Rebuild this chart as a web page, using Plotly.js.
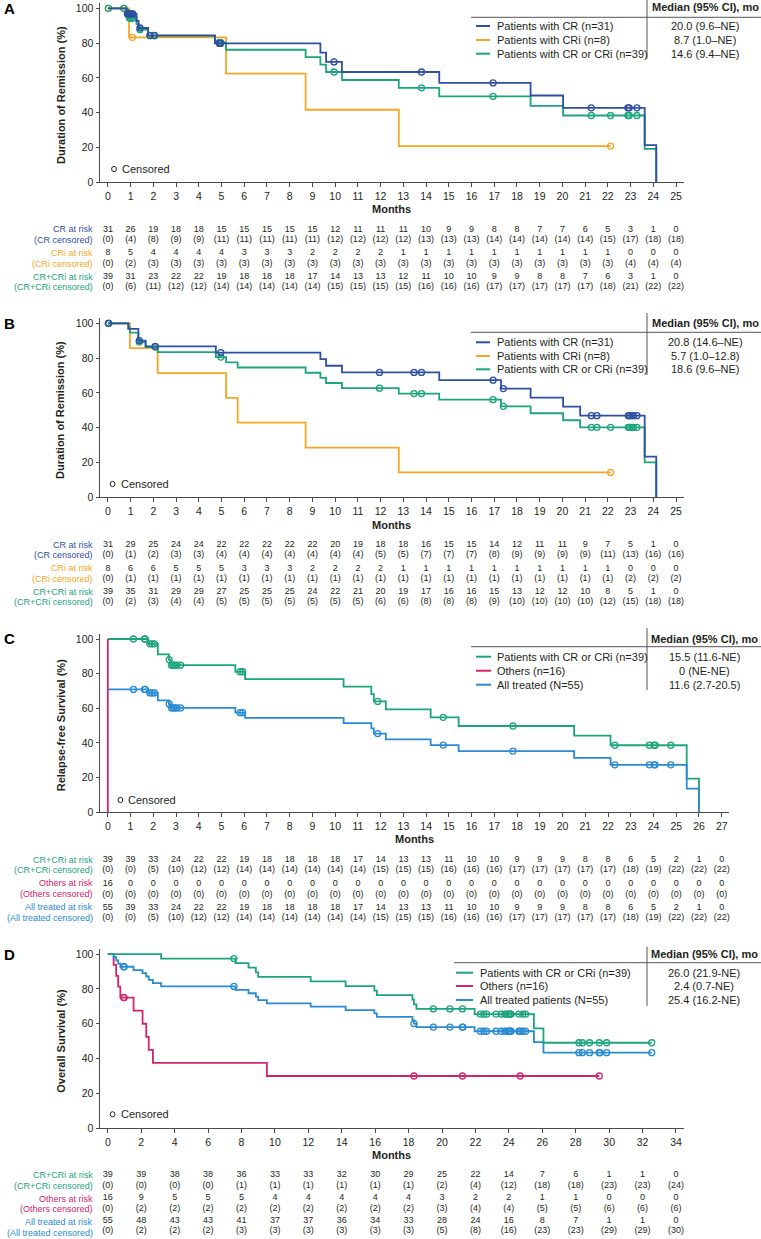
<!DOCTYPE html>
<html><head><meta charset="utf-8">
<script src="https://cdn.plot.ly/plotly-3.0.1.min.js"></script>
<style>html,body{margin:0;padding:0;background:#fff}</style>
</head><body>
<div id="chart" style="width:761px;height:1239px"></div>
<script>
// ---------------- DATA ----------------
const monthsAB = [0,1,2,3,4,5,6,7,8,9,10,11,12,13,14,15,16,17,18,19,20,21,22,23,24,25];
const monthsC  = [0,1,2,3,4,5,6,7,8,9,10,11,12,13,14,15,16,17,18,19,20,21,22,23,24,25,26,27];
const monthsD  = [0,2,4,6,8,10,12,14,16,18,20,22,24,26,28,30,32,34];
const yTicks   = [0,20,40,60,80,100];

// Panel A: duration of remission
const aCR_t  = [0,0.82,1.26,1.35,1.77,4.71,9.35,9.6,10.3,14.58,18.6,20.03,23.62,24.13];
const aCR_s  = [100,96.8,92.7,88.7,84.5,79.8,74.5,69.2,63.4,57.1,49.9,42.8,21.4,0];
const aCR_c  = [0.86,0.9,0.94,0.98,1.05,1.1,1.41,1.85,2.05,4.9,4.96,9.95,13.8,16.95,21.27,22.88,22.94,23.28];
const aCRi_t = [0,0.93,5.2,8.7,12.8,22.12];
const aCRi_s = [100,83.3,62.5,41.7,20.8,20.8];
const aCRi_c = [0.02,0.7,1.08,22.12];
const aCC_t  = [0,0.82,0.93,1.26,1.35,1.77,4.71,5.2,8.7,9.35,9.6,10.3,12.8,14.58,18.6,20.03,23.62,24.13];
const aCC_s  = [100,97.3,94.4,91.0,87.7,84.2,80.4,76.2,71.9,67.6,63.4,58.8,54.3,49.4,43.9,38.4,19.2,0];
const aCC_c  = [0.02,0.7,0.86,0.9,0.94,0.98,1.05,1.08,1.1,1.41,1.85,2.05,4.9,4.96,9.95,13.8,16.95,21.27,22.12,22.88,22.94,23.28];

const aRiskCR   = [31,26,19,18,18,15,15,15,15,15,12,11,11,11,10,9,9,8,8,7,7,6,5,3,1,0];
const aCensCR   = [0,4,8,9,9,11,11,11,11,11,12,12,12,12,13,13,13,14,14,14,14,14,15,17,18,18];
const aRiskCRi  = [8,5,4,4,4,4,3,3,3,2,2,2,2,1,1,1,1,1,1,1,1,1,1,0,0,0];
const aCensCRi  = [0,2,3,3,3,3,3,3,3,3,3,3,3,3,3,3,3,3,3,3,3,3,3,4,4,4];
const aRiskCC   = [39,31,23,22,22,19,18,18,18,17,14,13,13,12,11,10,10,9,9,8,8,7,6,3,1,0];
const aCensCC   = [0,6,11,12,12,14,14,14,14,14,15,15,15,15,16,16,16,17,17,17,17,17,18,21,22,22];

// Panel B: duration of remission
const bCR_t  = [0,0.9,1.34,1.66,4.75,9.35,9.6,10.3,14.58,17.3,18.6,20.03,20.78,23.62,24.13];
const bCR_s  = [100,96.8,90.1,86.8,83.2,79.4,75.6,71.8,67.3,62.5,57.3,52.1,46.9,23.4,0];
const bCR_c  = [0.02,1.38,2.08,4.97,11.95,13.47,13.8,16.95,17.4,21.27,21.52,22.9,22.96,23.05,23.13,23.28];
const bCRi_t = [0,0.97,2.19,5.2,5.71,8.7,12.8,22.12];
const bCRi_s = [100,85.7,71.4,57.1,42.9,28.6,14.3,14.3];
const bCRi_c = [0.04,22.12];
const bCC_t  = [0,0.9,0.97,1.34,1.66,2.19,4.75,5.2,5.71,8.7,9.35,9.6,10.3,12.8,14.58,17.3,18.6,20.03,20.78,23.62,24.13];
const bCC_s  = [100,97.3,94.6,89.2,86.4,83.5,80.6,77.6,74.6,71.6,68.7,65.7,62.7,59.6,56.1,52.3,48.3,44.3,40.2,20.1,0];
const bCC_c  = [0.02,0.04,1.38,2.08,4.97,11.95,13.47,13.8,16.95,17.4,21.27,21.52,22.12,22.9,22.96,23.05,23.13,23.28];

const bRiskCR   = [31,29,25,24,24,22,22,22,22,22,20,19,18,18,16,15,15,14,12,11,11,9,7,5,1,0];
const bCensCR   = [0,1,2,3,3,4,4,4,4,4,4,4,5,5,7,7,7,8,9,9,9,9,11,13,16,16];
const bRiskCRi  = [8,6,6,5,5,5,3,3,3,2,2,2,2,1,1,1,1,1,1,1,1,1,1,0,0,0];
const bCensCRi  = [0,1,1,1,1,1,1,1,1,1,1,1,1,1,1,1,1,1,1,1,1,1,1,2,2,2];
const bRiskCC   = [39,35,31,29,29,27,25,25,25,24,22,21,20,19,17,16,16,15,13,12,12,10,8,5,1,0];
const bCensCC   = [0,2,3,4,4,5,5,5,5,5,5,5,6,6,8,8,8,9,10,10,10,10,12,15,18,18];

// Panel C: relapse-free survival
const cCC_t  = [0,1.77,2.2,2.69,2.75,5.61,6.04,10.37,11.59,11.7,12.23,14.2,15.43,20.51,22.11,25.46,26.0];
const cCC_s  = [100,97.2,91.1,88.1,84.9,81.1,76.8,72.5,68.2,64.0,59.4,54.8,49.8,44.3,38.7,19.4,0];
const cCC_c  = [1.13,1.62,1.64,1.85,1.95,2.05,2.7,2.8,2.88,2.95,3.05,3.2,5.82,5.93,11.87,14.75,17.82,22.3,23.82,24.03,24.07,24.76];
const cOth_t = [0,0];
const cOth_s = [100,0];
const cAll_t = [0,1.77,2.2,2.69,2.75,5.61,6.04,10.37,11.59,11.7,12.23,14.2,15.43,20.51,22.11,25.46,26.0];
const cAll_s = [70.9,68.9,64.6,62.5,60.2,57.5,54.5,51.4,48.4,45.4,42.1,38.8,35.3,31.4,27.4,13.7,0];
const cAll_c = [1.13,1.62,1.64,1.85,1.95,2.05,2.7,2.8,2.88,2.95,3.05,3.2,5.82,5.93,11.87,14.75,17.82,22.3,23.82,24.03,24.07,24.76];

const cRiskCC   = [39,39,33,24,22,22,19,18,18,18,18,17,14,13,13,11,10,10,9,9,9,8,8,6,5,2,1,0];
const cCensCC   = [0,0,5,10,12,12,14,14,14,14,14,14,15,15,15,16,16,16,17,17,17,17,17,18,19,22,22,22];
const cRiskOth  = [16,0,0,0,0,0,0,0,0,0,0,0,0,0,0,0,0,0,0,0,0,0,0,0,0,0,0,0];
const cCensOth  = [0,0,0,0,0,0,0,0,0,0,0,0,0,0,0,0,0,0,0,0,0,0,0,0,0,0,0,0];
const cRiskAll  = [55,39,33,24,22,22,19,18,18,18,18,17,14,13,13,11,10,10,9,9,9,8,8,6,5,2,1,0];
const cCensAll  = [0,0,5,10,12,12,14,14,14,14,14,14,15,15,15,16,16,16,17,17,17,17,17,18,19,22,22,22];

// Panel D: overall survival
const dCC_t  = [0,3.19,7.64,8.42,8.86,9.0,12.14,14.23,15.95,16.1,18.23,18.32,18.47,21.95,25.5,26.07,32.55];
const dCC_s  = [100,97.4,94.8,92.2,89.5,86.9,84.3,81.6,79.0,76.4,73.8,71.1,68.5,65.5,57.3,49.1,49.1];
const dCC_c  = [7.55,19.48,20.47,21.22,22.3,22.5,22.67,23.23,23.55,23.75,23.84,23.98,24.03,24.08,24.13,24.6,24.83,25.0,28.19,28.4,28.83,29.41,29.85,32.55];
const dOth_t = [0,0.35,0.5,0.62,0.75,1.54,2.08,2.3,2.45,2.7,9.52,29.41];
const dOth_s = [100,93.8,87.5,81.3,75.0,67.5,60.0,52.5,45.0,37.5,30.0,30.0];
const dOth_c = [0.95,0.98,18.32,21.22,24.68,29.41];
const dAll_t = [0,0.35,0.5,0.62,0.75,1.54,2.08,2.3,2.45,2.7,3.19,7.64,8.42,8.86,9.0,9.52,12.14,14.23,15.95,16.1,18.23,18.32,18.47,21.95,25.5,26.07,32.55];
const dAll_s = [100,98.2,96.4,94.5,92.7,90.8,89.0,87.1,85.2,83.3,81.4,79.4,77.5,75.6,73.6,71.7,69.8,67.8,65.9,63.9,62.0,60.1,58.1,55.7,49.5,43.4,43.4];
const dAll_c = [0.95,0.98,7.55,18.32,19.48,20.47,21.22,21.25,22.3,22.5,22.67,23.23,23.55,23.75,23.84,23.98,24.03,24.08,24.13,24.6,24.68,24.83,25.0,28.19,28.4,28.83,29.41,29.45,29.85,32.55];

const dRiskCC   = [39,39,38,38,36,33,33,32,30,29,25,22,14,7,6,1,1,0];
const dCensCC   = [0,0,0,0,1,1,1,1,1,1,2,4,12,18,18,23,23,24];
const dRiskOth  = [16,9,5,5,5,4,4,4,4,4,3,2,2,1,1,0,0,0];
const dCensOth  = [0,2,2,2,2,2,2,2,2,2,3,4,4,5,5,6,6,6];
const dRiskAll  = [55,48,43,43,41,37,37,36,34,33,28,24,16,8,7,1,1,0];
const dCensAll  = [0,2,2,2,3,3,3,3,3,3,5,8,16,23,23,29,29,30];

// Legends
const legAB  = ['Patients with CR (n=31)','Patients with CRi (n=8)','Patients with CR or CRi (n=39)'];
const medA   = ['20.0 (9.6–NE)','8.7 (1.0–NE)','14.6 (9.4–NE)'];
const medB   = ['20.8 (14.6–NE)','5.7 (1.0–12.8)','18.6 (9.6–NE)'];
const legC   = ['Patients with CR or CRi (n=39)','Others (n=16)','All treated (N=55)'];
const medC   = ['15.5 (11.6-NE)','0 (NE-NE)','11.6 (2.7-20.5)'];
const legD   = ['Patients with CR or CRi (n=39)','Others (n=16)','All treated patients (N=55)'];
const medD   = ['26.0 (21.9-NE)','2.4 (0.7-NE)','25.4 (16.2-NE)'];
const labAB  = ['CR at risk','(CR censored)','CRi at risk','(CRi censored)','CR+CRi at risk','(CR+CRi censored)'];
const labCD  = ['CR+CRi at risk','(CR+CRi censored)','Others at risk','(Others censored)','All treated at risk','(All treated censored)'];

// ---------------- STYLE / LAYOUT ----------------
const W = 761, H = 1239;
const X = v => v / W, Y = v => 1 - v / H;
const FONT = 'Liberation Sans, Arial, Helvetica, sans-serif';
const TXT = '#231f20', AX = '#4a4a4a';
const C_CR = '#2f4fa3', C_CRI = '#f6a623', C_CC = '#1ca57c', C_OTH = '#d3246e', C_ALL = '#2a8bd3';

function stepVal(t, ts, ss) {
  let v = ss[0];
  for (let i = 0; i < ts.length; i++) { if (ts[i] <= t + 1e-9) v = ss[i]; else break; }
  return v;
}

const traces = [];
function addCurve(ts, ss, cs, color, k) {
  const xa = 'x' + (k === 1 ? '' : k), ya = 'y' + (k === 1 ? '' : k);
  traces.push({x: ts, y: ss, xaxis: xa, yaxis: ya, mode: 'lines', line: {shape: 'hv', color: color, width: 1.8},
    hoverinfo: 'skip', showlegend: false, cliponaxis: false});
  if (cs && cs.length) traces.push({x: cs, y: cs.map(t => stepVal(t, ts, ss)), xaxis: xa, yaxis: ya, mode: 'markers',
    marker: {symbol: 'circle-open', size: 6, color: color, line: {width: 1.3, color: color}},
    hoverinfo: 'skip', showlegend: false, cliponaxis: false});
}

const panels = [
  {k:1, letter:'A', xd:[99.5,684], xr:[-0.37,25.35], yd:[3.1,182.3], months:monthsAB, ytitle:'Duration of Remission (%)',
   monthsY:209.3, rows:[229.3,239.7,253,263.7,276.7,287], labels:labAB, labColors:[C_CR,C_CR,C_CRI,C_CRI,C_CC,C_CC],
   risk:[[aRiskCR,0],[aCensCR,1],[aRiskCRi,0],[aCensCRi,1],[aRiskCC,0],[aCensCC,1]],
   leg:legAB, med:medA, legColors:[C_CR,C_CRI,C_CC], hdrY:6.7, hLineY:17.3, hLineX0:471, vTop:0, vBot:59,
   entries:[26,40,53.7], sx:[476,490], tx:495, mx:705, letterY:8.3, cens:[114,169]},
  {k:2, letter:'B', xd:[99.5,684], xr:[-0.37,25.35], yd:[318.1,497.3], months:monthsAB, ytitle:'Duration of Remission (%)',
   monthsY:525, rows:[544.7,555,568.3,578.7,591.7,602], labels:labAB, labColors:[C_CR,C_CR,C_CRI,C_CRI,C_CC,C_CC],
   risk:[[bRiskCR,0],[bCensCR,1],[bRiskCRi,0],[bCensCRi,1],[bRiskCC,0],[bCensCC,1]],
   leg:legAB, med:medB, legColors:[C_CR,C_CRI,C_CC], hdrY:323.3, hLineY:332.3, hLineX0:471, vTop:313, vBot:375,
   entries:[342.3,356,369.3], sx:[476,490], tx:495, mx:705, letterY:323.7, cens:[112.6,484]},
  {k:3, letter:'C', xd:[99.5,729], xr:[-0.365,27.32], yd:[633.8,812.3], months:monthsC, ytitle:'Relapse-free Survival (%)',
   monthsY:839.3, rows:[859.7,869.7,883.3,894.3,907.3,917.7], labels:labCD, labColors:[C_CC,C_CC,C_OTH,C_OTH,C_ALL,C_ALL],
   risk:[[cRiskCC,0],[cCensCC,1],[cRiskOth,0],[cCensOth,1],[cRiskAll,0],[cCensAll,1]],
   leg:legC, med:medC, legColors:[C_CC,C_OTH,C_ALL], hdrY:639, hLineY:646.7, hLineX0:471, vTop:628, vBot:690,
   entries:[656.7,670.7,684.7], sx:[476,491], tx:495, mx:704, letterY:638.8, cens:[120.4,800]},
  {k:4, letter:'D', xd:[99.5,684], xr:[-0.497,34.48], yd:[948.8,1128.3], months:monthsD, ytitle:'Overall Survival (%)',
   monthsY:1155, rows:[1175,1185.7,1198.7,1209.3,1222,1232.7], labels:labCD, labColors:[C_CC,C_CC,C_OTH,C_OTH,C_ALL,C_ALL],
   risk:[[dRiskCC,0],[dCensCC,1],[dRiskOth,0],[dCensOth,1],[dRiskAll,0],[dCensAll,1]],
   leg:legD, med:medD, legColors:[C_CC,C_OTH,C_ALL], hdrY:954, hLineY:962.7, hLineX0:454, vTop:946.7, vBot:1006,
   entries:[972.7,986,1000], sx:[456,473], tx:478, mx:704, letterY:954, cens:[112.6,1114.3]}
];

// curves (draw order matters)
addCurve(aCRi_t, aCRi_s, aCRi_c, C_CRI, 1);
addCurve(aCC_t, aCC_s, aCC_c, C_CC, 1);
addCurve(aCR_t, aCR_s, aCR_c, C_CR, 1);
addCurve(bCRi_t, bCRi_s, bCRi_c, C_CRI, 2);
addCurve(bCC_t, bCC_s, bCC_c, C_CC, 2);
addCurve(bCR_t, bCR_s, bCR_c, C_CR, 2);
addCurve(cCC_t, cCC_s, cCC_c, C_CC, 3);
addCurve(cAll_t, cAll_s, cAll_c, C_ALL, 3);
addCurve(cOth_t, cOth_s, [], C_OTH, 3);
addCurve(dOth_t, dOth_s, dOth_c, C_OTH, 4);
addCurve(dAll_t, dAll_s, dAll_c, C_ALL, 4);
addCurve(dCC_t, dCC_s, dCC_c, C_CC, 4);

const layout = {
  width: W, height: H, margin: {l:0, r:0, t:0, b:0}, paper_bgcolor: '#fff', plot_bgcolor: 'rgba(0,0,0,0)',
  showlegend: false, font: {family: FONT, color: TXT, size: 10.5}, annotations: [], shapes: []
};

panels.forEach(p => {
  const s = p.k === 1 ? '' : p.k;
  const axCommon = {showline: true, linecolor: AX, linewidth: 1, ticks: 'outside', ticklen: 4, tickwidth: 1,
    tickcolor: AX, showgrid: false, zeroline: false, fixedrange: true, tickfont: {family: FONT, size: 10.5, color: TXT}};
  layout['xaxis' + s] = Object.assign({}, axCommon, {domain: [X(p.xd[0]), X(p.xd[1])], range: p.xr, anchor: 'y' + s,
    tickmode: 'array', tickvals: p.months, ticktext: p.months.map(String)});
  layout['yaxis' + s] = Object.assign({}, axCommon, {domain: [Y(p.yd[1]), Y(p.yd[0])], range: [0, 103], anchor: 'x' + s,
    tickmode: 'array', tickvals: yTicks, ticktext: yTicks.map(String), ticklen: 3});
  // table axis
  const tid = 4 + p.k;
  const tTop = p.rows[0] - 8, tBot = p.rows[5] + 8;
  layout['yaxis' + tid] = {domain: [Y(tBot), Y(tTop)], range: [tBot, tTop], anchor: 'x' + s, visible: false, fixedrange: true};
  p.risk.forEach((r, i) => {
    traces.push({x: p.months, y: p.months.map(() => p.rows[i]), xaxis: 'x' + s, yaxis: 'y' + tid, mode: 'text',
      text: r[0].map(v => r[1] ? '(' + v + ')' : String(v)), textposition: 'middle center',
      textfont: {family: FONT, size: 9, color: TXT}, hoverinfo: 'skip', showlegend: false, cliponaxis: false});
    layout.annotations.push({xref: 'paper', yref: 'paper', x: X(95), y: Y(p.rows[i]), xanchor: 'right', yanchor: 'middle',
      text: p.labels[i], showarrow: false, font: {family: FONT, size: 9, color: p.labColors[i]}});
  });
  // panel letter
  layout.annotations.push({xref: 'paper', yref: 'paper', x: X(2), y: Y(p.letterY), xanchor: 'left', yanchor: 'middle',
    text: '<b>' + p.letter + '</b>', showarrow: false, font: {family: FONT, size: 15, color: '#000'}});
  // axis titles
  layout.annotations.push({xref: 'paper', yref: 'paper', x: X((p.xd[0] + p.xd[1]) / 2), y: Y(p.monthsY), xanchor: 'center',
    yanchor: 'middle', text: '<b>Months</b>', showarrow: false, font: {family: FONT, size: 11, color: TXT}});
  layout.annotations.push({xref: 'paper', yref: 'paper', x: X(60.7), y: Y((p.yd[0] + 5 + p.yd[1]) / 2), xanchor: 'center',
    yanchor: 'middle', textangle: -90, text: '<b>' + p.ytitle + '</b>', showarrow: false, font: {family: FONT, size: 11, color: TXT}});
  // censored note
  const [cx, cy] = p.cens;
  layout.shapes.push({type: 'circle', xref: 'paper', yref: 'paper', x0: X(cx - 2.4), x1: X(cx + 2.4), y0: Y(cy + 2.6), y1: Y(cy - 2.6),
    line: {color: TXT, width: 1}});
  layout.annotations.push({xref: 'paper', yref: 'paper', x: X(cx + 6), y: Y(cy), xanchor: 'left', yanchor: 'middle',
    text: 'Censored', showarrow: false, font: {family: FONT, size: 11, color: TXT}});
  // legend box
  layout.annotations.push({xref: 'paper', yref: 'paper', x: X(p.mx), y: Y(p.hdrY), xanchor: 'center', yanchor: 'middle',
    text: '<b>Median (95% CI), mo</b>', showarrow: false, font: {family: FONT, size: 11, color: TXT}});
  layout.shapes.push({type: 'line', xref: 'paper', yref: 'paper', x0: X(p.hLineX0), x1: 1, y0: Y(p.hLineY), y1: Y(p.hLineY),
    line: {color: '#555', width: 1}});
  layout.shapes.push({type: 'line', xref: 'paper', yref: 'paper', x0: X(647), x1: X(647), y0: Y(p.vTop), y1: Y(p.vBot),
    line: {color: '#555', width: 1}});
  p.entries.forEach((ey, i) => {
    layout.shapes.push({type: 'line', xref: 'paper', yref: 'paper', x0: X(p.sx[0]), x1: X(p.sx[1]), y0: Y(ey), y1: Y(ey),
      line: {color: p.legColors[i], width: 2}});
    layout.annotations.push({xref: 'paper', yref: 'paper', x: X(p.tx), y: Y(ey), xanchor: 'left', yanchor: 'middle',
      text: p.leg[i], showarrow: false, font: {family: FONT, size: 11, color: TXT}});
    layout.annotations.push({xref: 'paper', yref: 'paper', x: X(p.mx), y: Y(ey), xanchor: 'center', yanchor: 'middle',
      text: p.med[i], showarrow: false, font: {family: FONT, size: 11, color: TXT}});
  });
});

Plotly.newPlot('chart', traces, layout, {displayModeBar: false, staticPlot: true});
</script>
</body></html>
